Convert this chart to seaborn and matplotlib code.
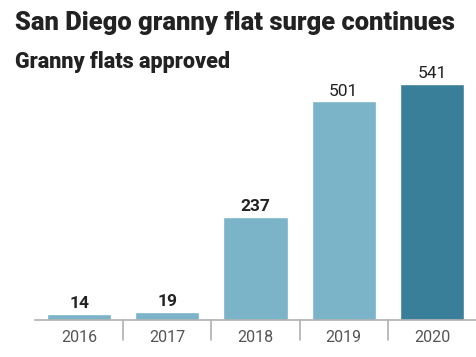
import matplotlib
matplotlib.use("Agg")
import matplotlib.pyplot as plt
import seaborn as sns
import pandas as pd

years = ["2016", "2017", "2018", "2019", "2020"]
approved = [14, 19, 237, 501, 541]
bar_colors = ["#7bb3c8", "#7bb3c8", "#7bb3c8", "#7bb3c8", "#3a7f99"]
label_weights = ["bold", "bold", "bold", "normal", "normal"]

sns.set_theme(style="white")
plt.rcParams["font.family"] = ["Roboto", "DejaVu Sans"]

df = pd.DataFrame({"year": years, "approved": approved})

fig = plt.figure(figsize=(4.77, 3.57), dpi=100)
ax = fig.add_axes([35 / 477, 1 - 320 / 357, 441 / 477, 260 / 357])

sns.barplot(data=df, x="year", y="approved", hue="year", palette=bar_colors,
            legend=False, width=0.727, saturation=1, ax=ax)

ax.set_xlim(-0.5, 4.5)
ax.set_ylim(0, 596)
for s in ["top", "right", "left"]:
    ax.spines[s].set_visible(False)
ax.spines["bottom"].set_color("#b0b0b0")
ax.spines["bottom"].set_linewidth(1.2)
ax.set_yticks([])
ax.set_xlabel("")
ax.set_ylabel("")
ax.tick_params(axis="x", length=0, labelsize=11.5, labelcolor="#555555", pad=7)

for i, (v, w) in enumerate(zip(approved, label_weights)):
    ax.text(i, v + 6, str(v), ha="center", va="bottom", fontsize=12.5,
            fontweight=w, color="#222222")

for b in [0.5, 1.5, 2.5, 3.5]:
    ax.plot([b, b], [0, -0.075], transform=ax.get_xaxis_transform(),
            color="#b0b0b0", lw=1.2, clip_on=False)

fig.text(15 / 477, 1 - 30 / 357, "San Diego granny flat surge continues",
         fontsize=18.4, fontweight="heavy", color="#222222", ha="left", va="baseline")
fig.text(15 / 477, 1 - 68 / 357, "Granny flats approved",
         fontsize=15.5, fontweight="heavy", color="#222222", ha="left", va="baseline")

fig.savefig("out.png", dpi=100, facecolor="white")
